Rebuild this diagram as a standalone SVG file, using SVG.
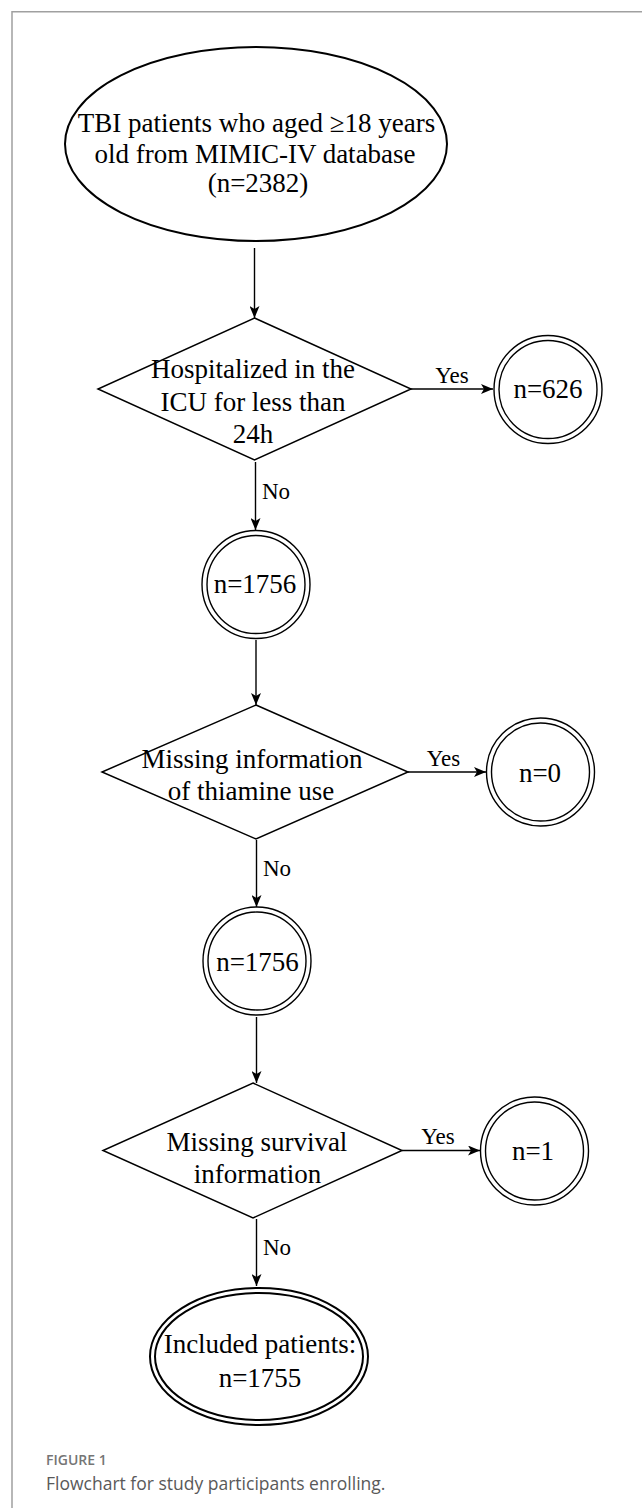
<svg xmlns="http://www.w3.org/2000/svg" width="642" height="1508" viewBox="0 0 642 1508">
<defs>
<marker id="arr" markerWidth="12" markerHeight="10" refX="12" refY="5" orient="auto" markerUnits="userSpaceOnUse">
<path d="M0,0 L12,5 L0,10 L3,5 z" fill="#000"/>
</marker>
<style>
.t{font-family:"Liberation Serif","Times New Roman",serif;font-size:27px;fill:#000;text-anchor:middle}
.lbl{font-family:"Liberation Serif","Times New Roman",serif;font-size:23px;fill:#000}
.shape{fill:#fff;stroke:#000;stroke-width:1.5}
.thick{fill:#fff;stroke:#000;stroke-width:2}
.circ{fill:none;stroke:#000;stroke-width:1.4}
.conn{stroke:#000;stroke-width:1.4;fill:none}
.frame{stroke:#a0a0a0;stroke-width:1.5;fill:none}
</style>
</defs>
<rect width="642" height="1508" fill="#fff"/>
<path class="frame" d="M12,1508 L12,11.7 L642,11.7"/>

<g id="connectors">
<line class="conn" x1="254.5" y1="248" x2="254.5" y2="318" marker-end="url(#arr)"/>
<line class="conn" x1="411" y1="389" x2="493" y2="389" marker-end="url(#arr)"/>
<line class="conn" x1="255.5" y1="462" x2="255.5" y2="530" marker-end="url(#arr)"/>
<line class="conn" x1="256" y1="640" x2="256" y2="705" marker-end="url(#arr)"/>
<line class="conn" x1="408" y1="772" x2="486" y2="772" marker-end="url(#arr)"/>
<line class="conn" x1="256.5" y1="840" x2="256.5" y2="907" marker-end="url(#arr)"/>
<line class="conn" x1="256.5" y1="1017" x2="256.5" y2="1083" marker-end="url(#arr)"/>
<line class="conn" x1="402" y1="1150.5" x2="480" y2="1150.5" marker-end="url(#arr)"/>
<line class="conn" x1="256.5" y1="1219" x2="256.5" y2="1286" marker-end="url(#arr)"/>
<text class="lbl" x="452" y="383" text-anchor="middle">Yes</text>
<text class="lbl" x="443.5" y="766" text-anchor="middle">Yes</text>
<text class="lbl" x="438" y="1144" text-anchor="middle">Yes</text>
<text class="lbl" x="262" y="499">No</text>
<text class="lbl" x="263" y="876">No</text>
<text class="lbl" x="263" y="1255">No</text>
</g>

<g id="start">
<ellipse class="thick" cx="256" cy="144" rx="191" ry="97"/>
<text class="t" x="256.5" y="132" font-size="28">TBI patients who aged ≥18 years</text>
<text class="t" x="255" y="163" font-size="28">old from MIMIC-IV database</text>
<text class="t" x="258" y="192" font-size="28">(n=2382)</text>
</g>

<g id="d1">
<polygon class="shape" points="254.5,318 411,389 254.5,460 98,389"/>
<text class="t" x="253" y="378">Hospitalized in the</text>
<text class="t" x="253" y="411">ICU for less than</text>
<text class="t" x="253" y="443">24h</text>
</g>

<g id="c626">
<circle class="circ" cx="548" cy="389.5" r="54"/>
<circle class="circ" cx="548" cy="389.5" r="49"/>
<text class="t" x="548" y="398">n=626</text>
</g>

<g id="c1756a">
<circle class="circ" cx="256" cy="584.5" r="54"/>
<circle class="circ" cx="256" cy="584.5" r="49"/>
<text class="t" x="255" y="593">n=1756</text>
</g>

<g id="d2">
<polygon class="shape" points="256,705 408,772 256,839 102,772"/>
<text class="t" x="252" y="768">Missing information</text>
<text class="t" x="251" y="800">of thiamine use</text>
</g>

<g id="c0">
<circle class="circ" cx="540.5" cy="772" r="54"/>
<circle class="circ" cx="540.5" cy="772" r="49"/>
<text class="t" x="540" y="782">n=0</text>
</g>

<g id="c1756b">
<circle class="circ" cx="257" cy="961" r="54"/>
<circle class="circ" cx="257" cy="961" r="49"/>
<text class="t" x="257.5" y="971">n=1756</text>
</g>

<g id="d3">
<polygon class="shape" points="253,1083 402,1150.5 253,1218 103,1150.5"/>
<text class="t" x="257" y="1151">Missing survival</text>
<text class="t" x="257.5" y="1183">information</text>
</g>

<g id="c1">
<circle class="circ" cx="534.5" cy="1151" r="54"/>
<circle class="circ" cx="534.5" cy="1151" r="49"/>
<text class="t" x="533" y="1160">n=1</text>
</g>

<g id="end">
<ellipse class="thick" cx="259" cy="1356.5" rx="109" ry="68.5"/>
<ellipse class="thick" cx="259" cy="1356.5" rx="104" ry="63.5"/>
<text class="t" x="260" y="1353">Included patients:</text>
<text class="t" x="260" y="1387">n=1755</text>
</g>

<g id="caption">
<text x="46" y="1465" font-family="'Open Sans','Noto Sans',sans-serif" font-size="14" font-weight="600" fill="#757575">FIGURE 1</text>
<text x="46" y="1490" font-family="'Open Sans','Noto Sans',sans-serif" font-size="17.5" fill="#595959">Flowchart for study participants enrolling.</text>
</g>
</svg>
